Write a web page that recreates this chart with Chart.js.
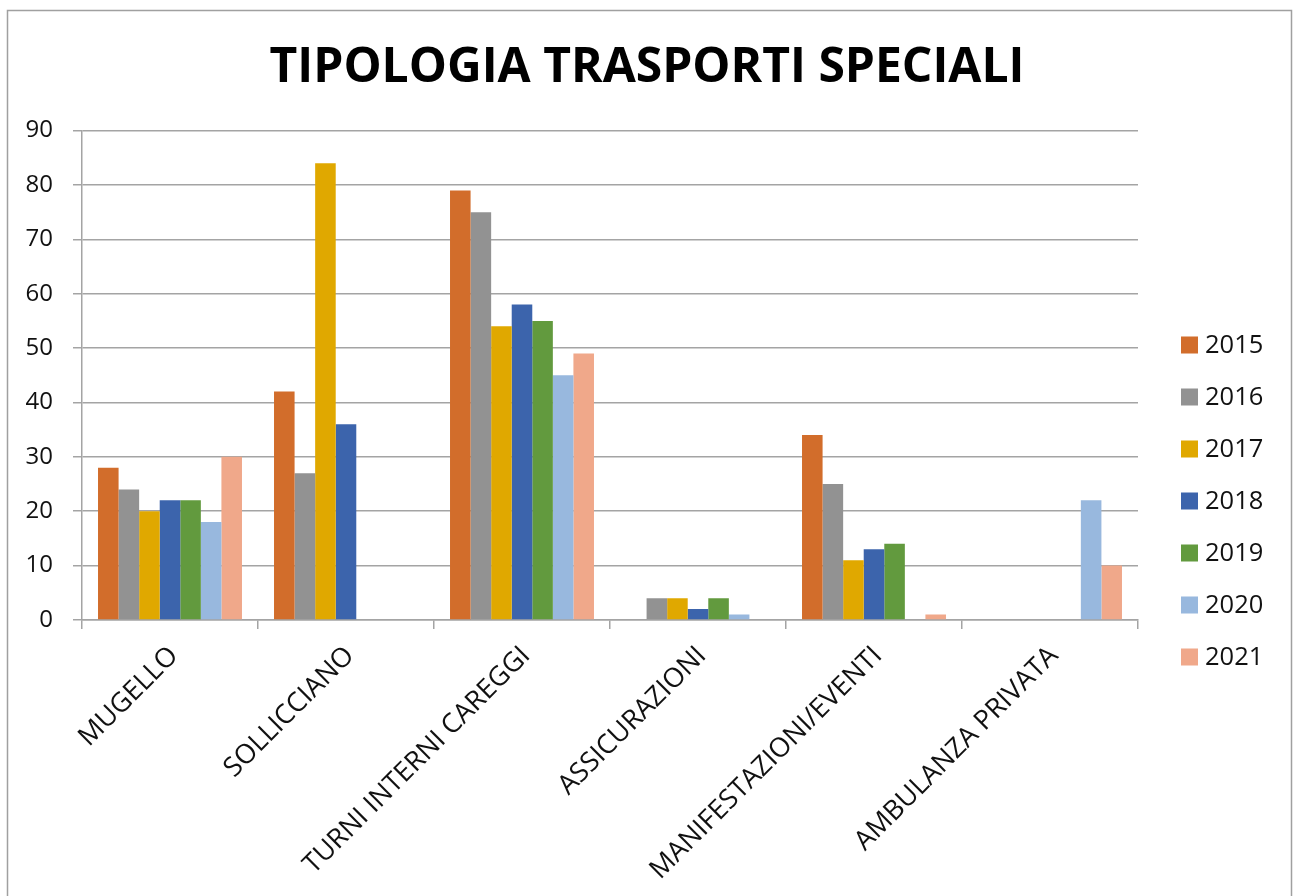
<!DOCTYPE html>
<html>
<head>
<meta charset="utf-8">
<script src="https://cdn.jsdelivr.net/npm/chart.js@4"></script>
<style>
  html, body { margin: 0; padding: 0; background: #fff; }
  #wrap { position: relative; width: 1294px; height: 896px; }
</style>
</head>
<body>
<div id="wrap"><canvas id="chart" width="1294" height="896"></canvas></div>
<script>
const categories = [
  "MUGELLO",
  "SOLLICCIANO",
  "TURNI INTERNI CAREGGI",
  "ASSICURAZIONI",
  "MANIFESTAZIONI/EVENTI",
  "AMBULANZA PRIVATA",
];
const years = ["2015", "2016", "2017", "2018", "2019", "2020", "2021"];

const v2015 = [28, 42, 79, 0, 34, 0];
const v2016 = [24, 27, 75, 4, 25, 0];
const v2017 = [20, 84, 54, 4, 11, 0];
const v2018 = [22, 36, 58, 2, 13, 0];
const v2019 = [22, 0, 55, 4, 14, 0];
const v2020 = [18, 0, 45, 1, 0, 22];
const v2021 = [30, 0, 49, 0, 1, 10];

const yearColors = ["#d26d2b", "#929292", "#e0a800", "#3c64ac", "#629a3e", "#98b8de", "#f0a88a"];

const series = [v2015, v2016, v2017, v2018, v2019, v2020, v2021];
const gridGray = "#a4a4a4";
const font = "'Open Sans', 'Noto Sans', sans-serif";

// frame round the whole chart, open at the bottom like the screenshot
const framePlugin = {
  id: "frame",
  beforeDraw(chart) {
    const ctx = chart.ctx;
    ctx.save();
    ctx.strokeStyle = "#a0a0a0";
    ctx.lineWidth = 1.5;
    ctx.beginPath();
    ctx.moveTo(7.5, 900);
    ctx.lineTo(7.5, 10.5);
    ctx.lineTo(1291.5, 10.5);
    ctx.lineTo(1291.5, 900);
    ctx.stroke();
    ctx.restore();
  },
};

// legend on the right, stacked, like the Excel one
const sideLegend = {
  id: "sideLegend",
  afterDraw(chart) {
    const ctx = chart.ctx;
    ctx.save();
    ctx.font = "25.5px " + font;
    ctx.textBaseline = "middle";
    ctx.textAlign = "left";
    chart.data.datasets.forEach((ds, i) => {
      const cy = 345 + i * 52;
      ctx.fillStyle = ds.backgroundColor;
      ctx.fillRect(1181, cy - 8.5, 17, 17);
      ctx.fillStyle = "#111";
      ctx.fillText(ds.label, 1205, cy + 1);
    });
    ctx.restore();
  },
};

new Chart(document.getElementById("chart"), {
  type: "bar",
  data: {
    labels: categories,
    datasets: years.map((y, i) => ({
      label: y,
      data: series[i],
      backgroundColor: yearColors[i],
      borderWidth: 0,
      categoryPercentage: 0.818,
      barPercentage: 1,
    })),
  },
  options: {
    responsive: false,
    animation: false,
    layout: { padding: 0 },
    plugins: {
      legend: { display: false },
      tooltip: { enabled: false },
      title: {
        display: true,
        text: "TIPOLOGIA TRASPORTI SPECIALI",
        color: "#000",
        font: { family: font, size: 48, weight: "bold" },
        padding: { top: 40, bottom: 33 },
      },
    },
    scales: {
      x: {
        afterFit: (s) => { s.height = 276; },
        ticks: {
          color: "#111",
          font: { family: font, size: 27 },
          minRotation: 45,
          maxRotation: 45,
          padding: 11,
          labelOffset: 4,
          autoSkip: false,
        },
        grid: { drawOnChartArea: false, drawTicks: true, tickLength: 9, color: gridGray, lineWidth: 1.5, offset: true },
        border: { display: true, color: gridGray, width: 1.5 },
      },
      y: {
        min: 0,
        max: 90,
        afterFit: (s) => { s.width = 82; },
        ticks: {
          stepSize: 10,
          color: "#111",
          font: { family: font, size: 24 },
          padding: 20,
        },
        grid: { color: gridGray, lineWidth: 1.5, tickLength: 9 },
        border: { display: true, color: gridGray, width: 1.5 },
      },
      // empty right-hand strip that holds the legend space
      side: {
        position: "right",
        display: true,
        afterFit: (s) => { s.width = 156; },
        ticks: { display: false },
        grid: { display: false },
        border: { display: false },
      },
    },
  },
  plugins: [framePlugin, sideLegend],
});
</script>
</body>
</html>
